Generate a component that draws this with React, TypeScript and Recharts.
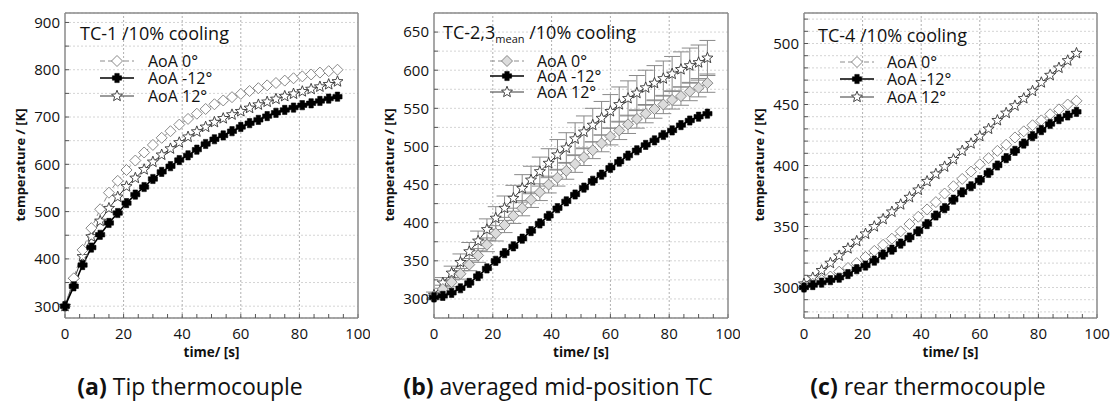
import React from "react";
import {
  CartesianGrid,
  ErrorBar,
  Line,
  LineChart,
  ReferenceLine,
  XAxis,
  YAxis,
} from "recharts";

// time stamps of the markers (s)
const time = [
  0, 3, 6, 9, 12, 15, 18, 21, 24, 27, 30, 33, 36, 39, 42, 45, 48, 51, 54, 57,
  60, 63, 66, 69, 72, 75, 78, 81, 84, 87, 90, 93,
];

// (a) tip thermocouple TC-1
const tipAoA0 = [
  300, 359, 419, 465, 505, 540, 565, 588, 608, 625, 641, 656, 670, 684, 696,
  707, 717, 727, 735, 742, 749, 755, 761, 767, 772, 777, 782, 786, 790, 794,
  797, 800,
];
const tipAoAm12 = [
  300, 342, 387, 424, 451, 476, 497, 518, 536, 552, 569, 584, 596, 609, 619,
  631, 643, 653, 661, 670, 679, 687, 694, 702, 709, 715, 720, 725, 729, 734,
  739, 743,
];
const tipAoA12 = [
  300, 355, 405, 447, 480, 507, 531, 553, 571, 589, 605, 620, 633, 646, 658,
  669, 679, 689, 697, 705, 712, 719, 726, 732, 738, 744, 749, 754, 759, 764,
  769, 775,
];

// (b) averaged mid-position TC-2,3
const midAoA0 = [
  302, 313, 322, 333, 345, 357, 371, 386, 397, 409, 419, 430, 440, 450, 459,
  468, 477, 486, 495, 504, 513, 521, 529, 536, 543, 549, 555, 561, 566, 572,
  577, 583,
];
const midAoA0Err = [
  3, 5, 6, 7, 8, 9, 9, 10, 10, 10, 10, 10, 11, 11, 11, 11, 11, 11, 11, 11, 11,
  12, 12, 12, 12, 12, 12, 12, 12, 12, 12, 12,
];
const midAoAm12 = [
  302, 304, 308, 314, 321, 330, 340, 350, 360, 369, 379, 389, 399, 409, 419,
  428, 437, 446, 455, 463, 472, 480, 488, 495, 502, 508, 515, 521, 528, 534,
  539, 543,
];
const midAoA12 = [
  305, 321, 334, 348, 362, 376, 391, 406, 419, 432, 445, 456, 467, 478, 489,
  498, 510, 519, 528, 537, 546, 555, 563, 570, 577, 583, 589, 595, 601, 606,
  610, 616,
];
const midAoA12Err = [
  4, 7, 9, 11, 12, 13, 14, 15, 16, 17, 18, 18, 19, 19, 20, 20, 21, 21, 22, 22,
  22, 23, 23, 23, 23, 23, 23, 23, 23, 23, 23, 23,
];

// (c) rear thermocouple TC-4
const rearAoA0 = [
  300, 303, 306, 309, 313, 316, 320, 325, 330, 335, 340, 346, 352, 358, 364,
  370, 377, 383, 389, 395, 401, 406, 412, 417, 423, 428, 433, 437, 442, 446,
  450, 453,
];
const rearAoAm12 = [
  300, 302, 304, 306, 308, 311, 315, 318, 322, 327, 331, 336, 341, 346, 352,
  359, 365, 372, 378, 383, 388, 394, 400, 406, 412, 418, 424, 429, 434, 438,
  441, 444,
];
const rearAoA12 = [
  303, 308, 314, 320, 326, 332, 338, 344, 350, 356, 362, 368, 374, 380, 387,
  393, 399, 405, 412, 418, 424, 430, 437, 443, 449, 455, 461, 468, 474, 480,
  486, 492,
];

const xTicks = [
  0, 5, 10, 15, 20, 25, 30, 35, 40, 45, 50, 55, 60, 65, 70, 75, 80, 85, 90, 95,
  100,
];
const xGrid = [20, 40, 60, 80];
const tipYTicks = [300, 350, 400, 450, 500, 550, 600, 650, 700, 750, 800, 850, 900];
const midYTicks = [
  300, 325, 350, 375, 400, 425, 450, 475, 500, 525, 550, 575, 600, 625, 650,
];
const rearYTicks = [
  280, 290, 300, 310, 320, 330, 340, 350, 360, 370, 380, 390, 400, 410, 420,
  430, 440, 450, 460, 470, 480, 490, 500, 510, 520,
];

const FONT = "'Open Sans', 'Noto Sans', sans-serif";

type Kind = "diamond" | "plus" | "star";

const markerPath = (kind: Kind, cx: number, cy: number) => {
  if (kind === "diamond") {
    const r = 5.5;
    return `M${cx},${cy - r}L${cx + r},${cy}L${cx},${cy + r}L${cx - r},${cy}Z`;
  }
  if (kind === "plus") {
    const a = 4.6;
    const b = 2.2;
    return `M${cx - b},${cy - a}H${cx + b}V${cy - b}H${cx + a}V${cy + b}H${cx + b}V${cy + a}H${cx - b}V${cy + b}H${cx - a}V${cy - b}H${cx - b}Z`;
  }
  let d = "";
  for (let i = 0; i < 10; i++) {
    const rad = i % 2 === 0 ? 5.8 : 2.5;
    const ang = -Math.PI / 2 + (i * Math.PI) / 5;
    d += (i === 0 ? "M" : "L") + (cx + rad * Math.cos(ang)).toFixed(2) + "," + (cy + rad * Math.sin(ang)).toFixed(2);
  }
  return d + "Z";
};

const makeDot = (kind: Kind, fill: string, stroke: string) => (p: any) => {
  const { cx, cy, index } = p;
  if (cx == null || cy == null || isNaN(cx) || isNaN(cy)) return <g key={index} />;
  return (
    <path
      key={index}
      d={markerPath(kind, cx, cy)}
      fill={fill}
      stroke={stroke}
      strokeWidth={kind === "plus" ? 0.6 : 0.9}
    />
  );
};

type Series = { kind: Kind; fill: string; stroke: string; line: string; width: number; dash?: string };

const S0 = (fill: string): Series => ({ kind: "diamond", fill, stroke: "#7a7a7a", line: "#8c8c8c", width: 1, dash: "5 3" });
const Sm12: Series = { kind: "plus", fill: "#000", stroke: "#000", line: "#000", width: 1.6 };
const S12: Series = { kind: "star", fill: "#fff", stroke: "#333", line: "#222", width: 0.9 };

type Row = { t: number; d: number; m: number; s: number; dErr?: number; sErr?: number };

type PanelProps = {
  left: number;
  width: number;
  mLeft: number;
  yWidth: number;
  mRight: number;
  domain: [number, number];
  yTicks: number[];
  labelStep: number;
  rows: Row[];
  diamond: Series;
  errors?: boolean;
};

const axisLine = { stroke: "#8a8a8a", strokeWidth: 1.5 };
const tickLine = { stroke: "#555" };
const tickStyle = { fontSize: 15, fill: "#111", fontFamily: FONT };

// x tick labels only every 20 s, baseline fixed just under the frame
const XTick = (p: any) => {
  const v = p.payload?.value;
  if (v % 20 !== 0) return <g />;
  return (
    <text x={p.x} y={339} textAnchor="middle" fontSize={15} fill="#111" fontFamily={FONT}>
      {v}
    </text>
  );
};

const Panel = ({ left, width, mLeft, yWidth, mRight, domain, yTicks, labelStep, rows, diamond, errors }: PanelProps) => (
  <div style={{ position: "absolute", left, top: 0 }}>
    <LineChart
      width={width}
      height={350}
      data={rows}
      margin={{ top: 12, right: mRight, bottom: 2, left: mLeft }}
    >
      <CartesianGrid vertical={false} stroke="#d4d4d4" strokeDasharray="2 2" />
      {xGrid.map((x) => (
        <ReferenceLine key={x} x={x} stroke="#b0b0b0" strokeDasharray="2 2" />
      ))}
      <XAxis
        dataKey="t"
        type="number"
        domain={[0, 100]}
        ticks={xTicks}
        interval={0}
        height={30}
        tickSize={-4}
        axisLine={axisLine}
        tickLine={tickLine}
        tick={XTick}
      />
      <XAxis
        xAxisId="top"
        orientation="top"
        type="number"
        domain={[0, 100]}
        allowDataOverflow
        ticks={xTicks}
        interval={0}
        height={1}
        tickSize={-4}
        axisLine={axisLine}
        tickLine={tickLine}
        tick={false}
      />
      <YAxis
        type="number"
        domain={domain}
        allowDataOverflow
        ticks={yTicks}
        interval={0}
        width={yWidth}
        tickSize={-4}
        tickMargin={9}
        axisLine={axisLine}
        tickLine={tickLine}
        tick={tickStyle}
        tickFormatter={(v: number) => (v % labelStep === 0 ? String(v) : "")}
      />
      <YAxis
        yAxisId="right"
        orientation="right"
        type="number"
        domain={domain}
        allowDataOverflow
        ticks={yTicks}
        interval={0}
        width={1}
        tickSize={-4}
        axisLine={axisLine}
        tickLine={tickLine}
        tick={false}
      />
      <Line
        dataKey="s"
        stroke={S12.line}
        strokeWidth={S12.width}
        dot={makeDot(S12.kind, S12.fill, S12.stroke)}
        isAnimationActive={false}
      >
        {errors && <ErrorBar dataKey="sErr" width={8} stroke="#8a8a8a" strokeWidth={1} direction="y" />}
      </Line>
      <Line
        dataKey="d"
        stroke={diamond.line}
        strokeWidth={diamond.width}
        strokeDasharray={diamond.dash}
        dot={makeDot(diamond.kind, diamond.fill, diamond.stroke)}
        isAnimationActive={false}
      >
        {errors && <ErrorBar dataKey="dErr" width={8} stroke="#8a8a8a" strokeWidth={1} direction="y" />}
      </Line>
      <Line
        dataKey="m"
        stroke={Sm12.line}
        strokeWidth={Sm12.width}
        dot={makeDot(Sm12.kind, Sm12.fill, Sm12.stroke)}
        isAnimationActive={false}
      />
    </LineChart>
  </div>
);

const LegendSym = ({ s }: { s: Series }) => (
  <svg width={34} height={14} style={{ display: "block" }}>
    <line x1={0} y1={7} x2={34} y2={7} stroke={s.line} strokeWidth={s.width} strokeDasharray={s.dash} />
    <path d={markerPath(s.kind, 17, 7)} fill={s.fill} stroke={s.stroke} strokeWidth={s.kind === "plus" ? 0.6 : 0.9} />
  </svg>
);

const abs = (left: number, cy: number, h: number, extra: React.CSSProperties = {}): React.CSSProperties => ({
  position: "absolute",
  left,
  top: cy - h / 2,
  height: h,
  lineHeight: `${h}px`,
  whiteSpace: "nowrap",
  fontFamily: FONT,
  color: "#111",
  ...extra,
});

const Legend = ({ title, x, y, symX, textX, rowsY, diamond }: any) => (
  <>
    <div style={abs(x, y, 22, { fontSize: 18 })}>{title}</div>
    {[
      { s: diamond, label: "AoA 0°" },
      { s: Sm12, label: "AoA -12°" },
      { s: S12, label: "AoA 12°" },
    ].map((e, i) => (
      <React.Fragment key={e.label}>
        <div style={{ position: "absolute", left: symX, top: rowsY[i] - 7 }}>
          <LegendSym s={e.s} />
        </div>
        <div style={abs(textX, rowsY[i], 15, { fontSize: 16 })}>{e.label}</div>
      </React.Fragment>
    ))}
  </>
);

const AxisTitles = ({ plotLeft, plotRight, yLabelX }: { plotLeft: number; plotRight: number; yLabelX: number }) => (
  <>
    <div
      style={{
        position: "absolute",
        left: yLabelX,
        top: 165,
        transform: "translate(-50%, -50%) rotate(-90deg)",
        whiteSpace: "nowrap",
        fontFamily: FONT,
        fontWeight: 700,
        fontSize: 13,
        color: "#111",
      }}
    >
      temperature / [K]
    </div>
    <div
      style={{
        position: "absolute",
        left: (plotLeft + plotRight) / 2,
        top: 352,
        transform: "translate(-50%, -50%)",
        whiteSpace: "nowrap",
        fontFamily: FONT,
        fontWeight: 700,
        fontSize: 13.5,
        color: "#111",
      }}
    >
      time/ [s]
    </div>
  </>
);

const Caption = ({ cx, tag, text }: { cx: number; tag: string; text: string }) => (
  <div
    style={{
      position: "absolute",
      left: cx,
      top: 386,
      transform: "translate(-50%, -50%)",
      whiteSpace: "nowrap",
      fontFamily: FONT,
      fontSize: 23,
      lineHeight: "26px",
      color: "#111",
    }}
  >
    <b>{tag}</b> {text}
  </div>
);

const buildRows = (d: number[], m: number[], s: number[], dErr?: number[], sErr?: number[]): Row[] =>
  time.map((t, i) => ({ t, d: d[i], m: m[i], s: s[i], dErr: dErr?.[i], sErr: sErr?.[i] }));

export default function App() {
  const tipRows = buildRows(tipAoA0, tipAoAm12, tipAoA12);
  const midRows = buildRows(midAoA0, midAoAm12, midAoA12, midAoA0Err, midAoA12Err);
  const rearRows = buildRows(rearAoA0, rearAoAm12, rearAoA12);
  const dWhite = S0("#fff");
  const dGray = S0("#dcdcdc");

  return (
    <div
      style={{
        position: "fixed",
        left: 0,
        top: 0,
        width: 1115,
        height: 402,
        background: "#fff",
        overflow: "hidden",
      }}
    >
      <Panel left={0} width={370} mLeft={20} yWidth={45} mRight={11} domain={[275, 920]} yTicks={tipYTicks} labelStep={100} rows={tipRows} diamond={dWhite} />
      <Panel left={370} width={370} mLeft={19} yWidth={45} mRight={11} domain={[275, 675]} yTicks={midYTicks} labelStep={50} rows={midRows} diamond={dGray} errors />
      <Panel left={750} width={360} mLeft={14} yWidth={40} mRight={12} domain={[275, 525]} yTicks={rearYTicks} labelStep={50} rows={rearRows} diamond={dWhite} />

      <Legend title="TC-1 /10% cooling" x={80} y={33} symX={100} textX={148} rowsY={[61, 78, 96]} diamond={dWhite} />
      <Legend
        title={
          <>
            TC-2,3<sub style={{ fontSize: 11, verticalAlign: "-4px", lineHeight: 0 }}>mean</sub> /10% cooling
          </>
        }
        x={443}
        y={32}
        symX={490}
        textX={537}
        rowsY={[61, 76, 92]}
        diamond={dGray}
      />
      <Legend title="TC-4 /10% cooling" x={818} y={35} symX={840} textX={887} rowsY={[62, 79, 97]} diamond={dWhite} />

      <AxisTitles plotLeft={65} plotRight={358} yLabelX={20} />
      <AxisTitles plotLeft={434} plotRight={728} yLabelX={389} />
      <AxisTitles plotLeft={804} plotRight={1097} yLabelX={759} />

      <Caption cx={190} tag="(a)" text="Tip thermocouple" />
      <Caption cx={558} tag="(b)" text="averaged mid-position TC" />
      <Caption cx={928} tag="(c)" text="rear thermocouple" />
    </div>
  );
}
